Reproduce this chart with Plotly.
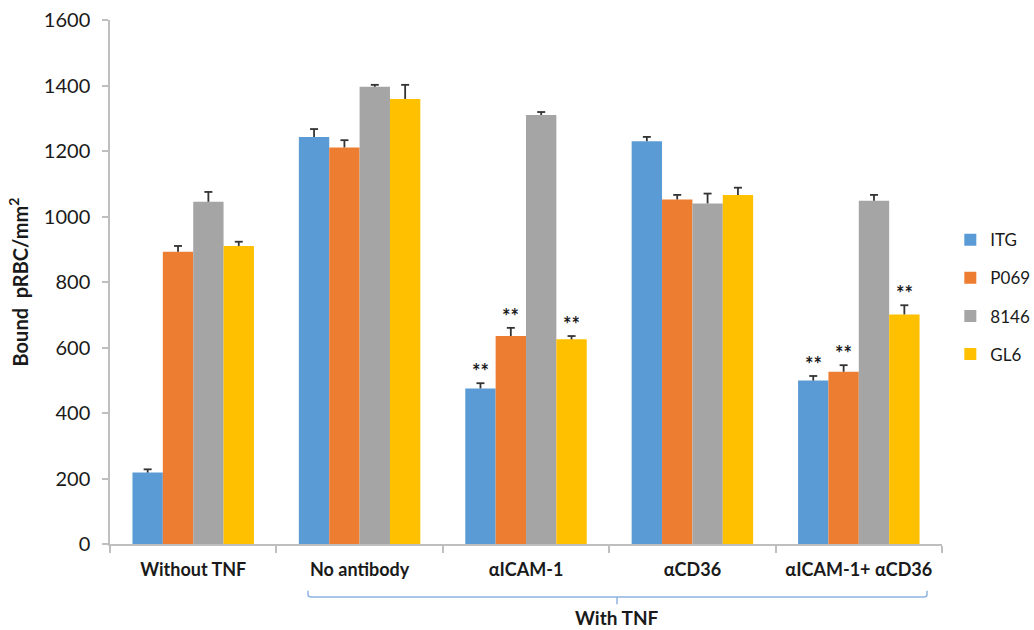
import plotly.graph_objects as go

categories = ["Without TNF", "No antibody", "αICAM-1", "αCD36", "αICAM-1+ αCD36"]

itg = [218, 1243, 475, 1230, 499]
p069 = [892, 1211, 635, 1052, 526]
s8146 = [1045, 1396, 1310, 1040, 1048]
gl6 = [910, 1359, 625, 1066, 701]

itg_err = [10, 24, 16, 13, 14]
p069_err = [18, 22, 25, 14, 20]
s8146_err = [30, 6, 9, 30, 18]
gl6_err = [13, 43, 10, 22, 28]

# significance marks: (series index, category index)
significant = [(0, 2), (1, 2), (3, 2), (0, 4), (1, 4), (3, 4)]

series = [
    ("ITG", itg, itg_err, "#5B9BD5"),
    ("P069", p069, p069_err, "#ED7D31"),
    ("8146", s8146, s8146_err, "#A5A5A5"),
    ("GL6", gl6, gl6_err, "#FFC000"),
]

FONT = "Lato"
TEXT = "#1a1a1a"
bargap = 0.27
n = len(series)
bw = (1 - bargap) / n
cap = 0.024  # half-width of the error-bar cap, in category units

fig = go.Figure()
for i, (name, vals, errs, color) in enumerate(series):
    fig.add_trace(go.Bar(
        name=name, x=categories, y=vals,
        marker=dict(color=color, line=dict(width=0)),
        legendgroup=name,
    ))

# upper-only error bars ("T" shape) on an overlaid numeric x axis
for i, (name, vals, errs, color) in enumerate(series):
    offset = -(1 - bargap) / 2 + bw * (i + 0.5)
    xs, ys = [], []
    for c, (v, e) in enumerate(zip(vals, errs)):
        xc = c + offset
        xs += [xc, xc, None, xc - cap, xc + cap, None]
        ys += [v, v + e, None, v + e, v + e, None]
    fig.add_trace(go.Scatter(
        x=xs, y=ys, xaxis="x2", mode="lines", showlegend=False,
        line=dict(color="#333333", width=1.8), hoverinfo="skip",
    ))

# "**" markers above the error bars
for s, c in significant:
    offset = -(1 - bargap) / 2 + bw * (s + 0.5)
    top = series[s][1][c] + series[s][2][c]
    fig.add_annotation(x=c + offset, y=top, xref="x2", yref="y",
                       text="<b>**</b>", showarrow=False, yanchor="bottom",
                       yshift=-2, font=dict(family=FONT, size=20, color=TEXT))

# bracket grouping the TNF-treated conditions
xl, xr, xm = 0.69, 4.41, 2.547
yt, yb, ytick = -0.089, -0.101, -0.115
r = 0.02
path = (f"M {xl},{yt} L {xl},{yb + 0.004} Q {xl},{yb} {xl + r},{yb} "
        f"L {xr - r},{yb} Q {xr},{yb} {xr},{yb + 0.004} L {xr},{yt} "
        f"M {xm},{yb} L {xm},{ytick}")
fig.add_shape(type="path", path=path, xref="x2", yref="paper",
              line=dict(color="#8db4e2", width=1.5))
fig.add_annotation(x=xm, y=-0.141, xref="x2", yref="paper", text="<b>With TNF</b>",
                   showarrow=False, yanchor="middle",
                   font=dict(family=FONT, size=19, color=TEXT))

fig.update_layout(
    width=1034, height=630,
    margin=dict(l=110, r=92, t=20, b=86, autoexpand=False),
    paper_bgcolor="white", plot_bgcolor="white",
    barmode="group", bargap=bargap, bargroupgap=0,
    font=dict(family=FONT, color=TEXT),
    legend=dict(x=1.01, y=0.471, xanchor="left", yanchor="middle",
                font=dict(family=FONT, size=17, color=TEXT),
                itemwidth=30, tracegroupgap=13, bgcolor="rgba(0,0,0,0)"),
    xaxis2=dict(overlaying="x", range=[-0.5, 4.5], visible=False),
)
fig.update_layout(xaxis=dict(
    type="category", range=[-0.5, 4.5],
    showline=True, linecolor="#bfbfbf", linewidth=1.5,
    ticks="outside", tickson="boundaries", ticklen=7, tickcolor="#bfbfbf", tickwidth=1.5,
    tickfont=dict(family=FONT, size=18, color=TEXT, weight="bold"),
    ticklabelstandoff=9, showgrid=False, zeroline=False,
))
fig.update_yaxes(
    range=[0, 1600], dtick=200,
    showline=True, linecolor="#bfbfbf", linewidth=1.5,
    ticks="outside", ticklen=6, tickcolor="#bfbfbf", tickwidth=1.5,
    tickfont=dict(family=FONT, size=20, color=TEXT),
    ticklabelstandoff=8,
    showgrid=False, zeroline=False,
    title=dict(text="<b>Bound  pRBC/mm<sup>2</sup></b>", standoff=10,
               font=dict(family=FONT, size=20, color=TEXT)),
)

fig.write_html("out.html")
